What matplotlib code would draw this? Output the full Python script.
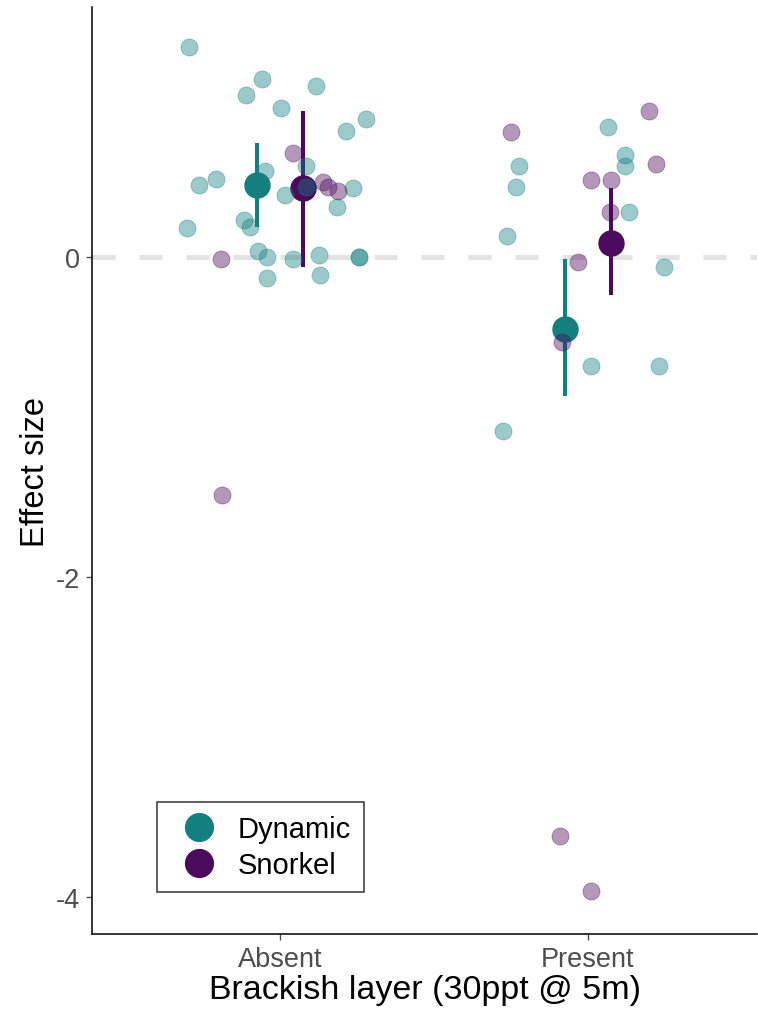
import matplotlib
matplotlib.use("Agg")
import matplotlib.pyplot as plt
from matplotlib.lines import Line2D

plt.rcParams['font.family'] = ['Liberation Sans', 'DejaVu Sans']

groups = ["Absent", "Present"]
methods = ["Dynamic", "Snorkel"]
colors = {"Dynamic": "#137f7f", "Snorkel": "#4b0a5c"}
dodge = {"Dynamic": -0.075, "Snorkel": 0.075}

# model estimates and intervals per group
mean_vals = {"Dynamic": [0.45, -0.45], "Snorkel": [0.43, 0.09]}
low_vals = {"Dynamic": [0.19, -0.87], "Snorkel": [-0.06, -0.24]}
high_vals = {"Dynamic": [0.71, -0.01], "Snorkel": [0.91, 0.43]}

# raw observations (group index, jitter offset, effect size)
dyn_group = [0] * 26 + [1] * 11
dyn_jit = [-0.295, -0.058, -0.110, 0.117, 0.003, 0.279, 0.214, -0.049, 0.084,
           -0.208, -0.263, 0.016, 0.084, 0.237, 0.185, -0.117, -0.097, -0.302,
           -0.071, -0.042, 0.042, 0.127, 0.256, 0.256, -0.042, 0.130,
           0.065, -0.224, 0.120, 0.120, -0.234, 0.133, -0.263, 0.247, 0.010,
           0.231, -0.276]
dyn_vals = [1.31, 1.11, 1.01, 1.07, 0.93, 0.86, 0.79, 0.54, 0.57,
            0.49, 0.45, 0.39, 0.44, 0.43, 0.31, 0.23, 0.19, 0.18,
            0.04, 0.0, -0.01, 0.01, 0.0, 0.0, -0.13, -0.11,
            0.81, 0.57, 0.64, 0.57, 0.44, 0.28, 0.13, -0.06, -0.68,
            -0.68, -1.09]

snk_group = [0] * 6 + [1] * 10
snk_jit = [0.042, 0.140, 0.156, 0.188, -0.192, -0.188,
           -0.250, 0.198, 0.221, 0.010, 0.075, 0.071, -0.032, -0.084, -0.091, 0.010]
snk_vals = [0.65, 0.47, 0.44, 0.41, -0.01, -1.49,
            0.78, 0.91, 0.58, 0.48, 0.48, 0.28, -0.03, -0.53, -3.62, -3.96]

raw = {"Dynamic": (dyn_group, dyn_jit, dyn_vals),
       "Snorkel": (snk_group, snk_jit, snk_vals)}

fig = plt.figure(figsize=(7.58, 10.12), dpi=100)
ax = fig.add_axes([0.1214, 0.0761, 0.8773, 0.9159])

ax.axhline(0, color="#e3e3e3", lw=3.6, linestyle=(0, (4.6, 4.8)), zorder=1)

# means with intervals
for m in methods:
    for i, g in enumerate(groups):
        x = i + 1 + dodge[m]
        ax.plot([x, x], [low_vals[m][i], high_vals[m][i]], color=colors[m],
                lw=2.9, solid_capstyle="butt", zorder=2)
        ax.plot(x, mean_vals[m][i], "o", color=colors[m], ms=18, mec=colors[m],
                zorder=2)

# jittered raw points
for m in methods:
    gi, jit, vals = raw[m]
    xs = [g + 1 + j for g, j in zip(gi, jit)]
    ax.scatter(xs, vals, s=150, color=colors[m], alpha=0.42, edgecolors=colors[m],
               linewidths=0.6, zorder=3)

ax.set_xlim(0.39, 2.55)
ax.set_ylim(-4.231, 1.5625)
ax.set_xticks([1, 2])
ax.set_xticklabels(groups)
ax.set_yticks([-4, -2, 0])
ax.set_yticklabels(["-4", "-2", "0"])
ax.tick_params(labelsize=19.5, colors="#4d4d4d", length=4, width=1)
ax.tick_params(axis="x", pad=5)
ax.tick_params(axis="y", pad=5)
ax.set_xlabel("Brackish layer (30ppt @ 5m)", fontsize=24.5, labelpad=1)
ax.set_ylabel("Effect size", fontsize=23.5, labelpad=3)

for side in ["top", "right"]:
    ax.spines[side].set_visible(False)
for side in ["left", "bottom"]:
    ax.spines[side].set_linewidth(1.1)
    ax.spines[side].set_color("black")

handles = [Line2D([], [], marker="o", ls="", color=colors[m], ms=20) for m in methods]
leg = ax.legend(handles, methods, loc="lower left", bbox_to_anchor=(0.098, 0.045),
                borderaxespad=0, fontsize=21, frameon=True, fancybox=False,
                handletextpad=0.3, labelspacing=0.28, borderpad=0.45, handlelength=2.0)
leg.get_frame().set_edgecolor("black")
leg.get_frame().set_linewidth(1.1)

fig.savefig("out.png", dpi=100)
